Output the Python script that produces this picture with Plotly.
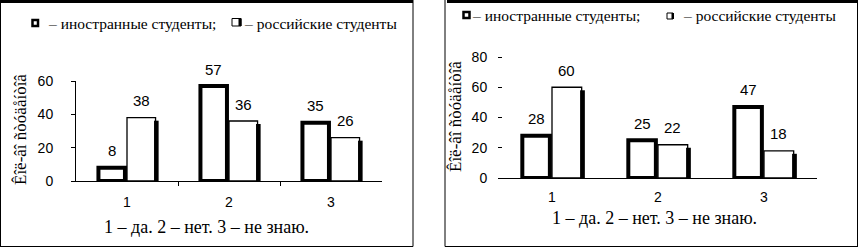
import plotly.graph_objects as go

# ---- data ----
categories = [1, 2, 3]
cat_labels = ["1", "2", "3"]
left_foreign = [8, 57, 35]
left_russian = [38, 36, 26]
right_foreign = [28, 25, 47]
right_russian = [60, 22, 18]
left_yticks = [0, 20, 40, 60]
right_yticks = [0, 20, 40, 60, 80]
legend_foreign = "– иностранные студенты;"
legend_russian = "– российские студенты"
x_title = "1 – да. 2 – нет. 3 – не знаю."
y_title = "Êîë-âî ñòóäåíòîâ"

W, H = 860, 248
SANS = "Liberation Sans"
SERIF = "Liberation Serif"


def px(x):
    return x / W


def py(y):
    return 1 - y / H


# bar geometry (category units)
F_OFF, F_W = -0.28, 0.26
R_OFF, R_W = 0.0, 0.28
S_OFF, S_W = 0.265, 0.045

fig = go.Figure()


def add_panel(foreign, russian, xa, ya, drop):
    fig.add_trace(go.Bar(x=categories, y=russian, xaxis=xa, yaxis=ya, offset=R_OFF, width=R_W,
                         marker=dict(color="white", line=dict(color="black", width=1.3)),
                         showlegend=False, hoverinfo="skip"))
    fig.add_trace(go.Bar(x=categories, y=foreign, xaxis=xa, yaxis=ya, offset=F_OFF, width=F_W,
                         marker=dict(color="white", line=dict(color="black", width=4)),
                         showlegend=False, hoverinfo="skip"))
    fig.add_trace(go.Bar(x=categories, y=[v - drop for v in russian], xaxis=xa, yaxis=ya,
                         offset=S_OFF, width=S_W,
                         marker=dict(color="black", line=dict(width=0)),
                         showlegend=False, hoverinfo="skip"))


add_panel(left_foreign, left_russian, "x", "y", 1.8)
add_panel(right_foreign, right_russian, "x2", "y2", 2.0)

annotations = []


def add_labels(foreign, russian, xref, yref):
    for c, f, r in zip(categories, foreign, russian):
        annotations.append(dict(x=c + F_OFF + F_W / 2, y=f, xref=xref, yref=yref, text=str(f),
                                xanchor="center", yanchor="middle",
                                showarrow=False, yshift=17, font=dict(family=SANS, size=15, color="black")))
        annotations.append(dict(x=c + R_OFF + R_W / 2, y=r, xref=xref, yref=yref, text=str(r),
                                xanchor="center", yanchor="middle",
                                showarrow=False, yshift=17, font=dict(family=SANS, size=15, color="black")))


add_labels(left_foreign, left_russian, "x", "y")
add_labels(right_foreign, right_russian, "x2", "y2")

# axis titles
annotations += [
    dict(x=px(206), y=py(227), xref="paper", yref="paper", text=x_title, showarrow=False,
         xanchor="center", yanchor="middle", font=dict(family=SERIF, size=18, color="black")),
    dict(x=px(654), y=py(218), xref="paper", yref="paper", text=x_title, showarrow=False,
         xanchor="center", yanchor="middle", font=dict(family=SERIF, size=18, color="black")),
    dict(x=px(20), y=py(130), xref="paper", yref="paper", text=y_title, textangle=-90, showarrow=False,
         xanchor="center", yanchor="middle", font=dict(family=SERIF, size=17, color="black")),
    dict(x=px(455), y=py(117), xref="paper", yref="paper", text=y_title, textangle=-90, showarrow=False,
         xanchor="center", yanchor="middle", font=dict(family=SERIF, size=17, color="black")),
]

# legend texts
for xx, yy, t in [(46, 23, legend_foreign), (242, 23, legend_russian),
                  (470, 15, legend_foreign), (681, 15, legend_russian)]:
    annotations.append(dict(x=px(xx), y=py(yy), xref="paper", yref="paper", text=t, showarrow=False,
                            xanchor="left", yanchor="middle", font=dict(family=SERIF, size=15.5, color="black")))

shapes = []


def rect(x0, y0, x1, y1, fill, lw):
    shapes.append(dict(type="rect", xref="paper", yref="paper", x0=px(x0), x1=px(x1), y0=py(y0), y1=py(y1),
                       fillcolor=fill, line=dict(color="black", width=lw)))


def line(x0, y0, x1, y1, lw):
    shapes.append(dict(type="line", xref="paper", yref="paper", x0=px(x0), x1=px(x1), y0=py(y0), y1=py(y1),
                       line=dict(color="black", width=lw)))


# legend symbols
rect(32.5, 20, 38, 26, "white", 2.5)
rect(232, 18.5, 241, 26, "white", 1)
rect(238.5, 18.5, 241.5, 26, "black", 0)
rect(463.5, 12, 469.5, 18, "white", 2.5)
rect(667, 13, 673, 19, "white", 1)
rect(671.5, 13, 674, 19, "black", 0)

# panel borders
line(0, 1.5, 413, 1.5, 3)
line(447, 1.5, 858, 1.5, 3)
line(0.5, 0, 0.5, 246.5, 1)
line(413, 0, 413, 246.5, 1)
line(0, 246.5, 413, 246.5, 1.2)
line(445, 0, 445, 246.5, 1)
line(857.5, 0, 857.5, 246.5, 1)
line(445, 246.5, 858, 246.5, 1.2)

axis_common = dict(showgrid=False, zeroline=False, fixedrange=True, color="black", automargin=False)

fig.update_layout(
    template="none",
    width=W, height=H,
    margin=dict(l=0, r=0, t=0, b=0, pad=0, autoexpand=False),
    paper_bgcolor="white", plot_bgcolor="white",
    barmode="overlay",
    showlegend=False,
    annotations=annotations,
    shapes=shapes,
    xaxis=dict(domain=[px(76), px(382)], range=[0.5, 3.5], anchor="y",
               tickvals=categories, ticktext=cat_labels, ticks="",
               minor=dict(tickvals=[c + 0.5 for c in categories[:-1]], ticks="outside", ticklen=4,
                          tickcolor="black", tickwidth=1),
               showline=True, linecolor="black", linewidth=1,
               tickfont=dict(family=SANS, size=14, color="black"), ticklabelstandoff=8, **axis_common),
    yaxis=dict(domain=[py(181), py(81)], range=[0, 60], anchor="x",
               tickvals=left_yticks, ticks="outside", ticklen=4, tickcolor="black",
               showline=True, linecolor="black", linewidth=1,
               tickfont=dict(family=SANS, size=14, color="black"), ticklabelstandoff=15, **axis_common),
    xaxis2=dict(domain=[px(499), px(817)], range=[0.5, 3.5], anchor="y2",
                tickvals=categories, ticktext=cat_labels, ticks="",
                showline=True, linecolor="black", linewidth=1,
                tickfont=dict(family=SANS, size=14, color="black"), ticklabelstandoff=6, **axis_common),
    yaxis2=dict(domain=[py(178), py(57)], range=[0, 80], anchor="free", position=px(502),
                tickvals=right_yticks, ticks="outside", ticklen=4, tickcolor="black",
                showline=False,
                tickfont=dict(family=SANS, size=14, color="black"), ticklabelstandoff=8, **axis_common),
)

fig.write_html("out.html", config={"displayModeBar": False},
               post_script="document.body.style.margin='0';document.body.style.overflow='hidden';")
